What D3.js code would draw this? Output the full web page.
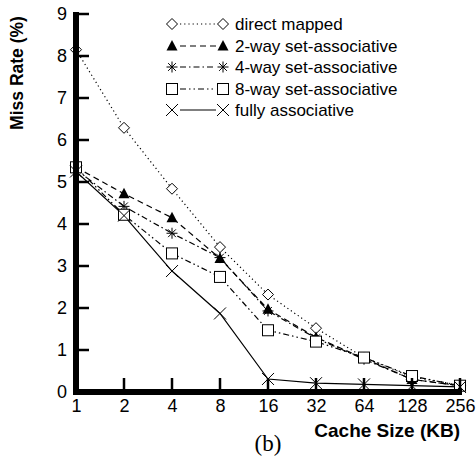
<!DOCTYPE html>
<html><head><meta charset="utf-8">
<script src="https://cdn.jsdelivr.net/npm/d3@7"></script>
<style>body{margin:0;background:#fff}svg{display:block}</style>
</head><body>
<svg id="c" width="476" height="460"></svg>
<script>
const cacheSizes = [1, 2, 4, 8, 16, 32, 64, 128, 256];
const directMapped = [8.15, 6.29, 4.84, 3.45, 2.32, 1.52, 0.82, 0.36, 0.16];
const twoWay      = [5.35, 4.72, 4.15, 3.18, 1.97, 1.30, 0.80, 0.30, 0.15];
const fourWay     = [5.30, 4.42, 3.78, 3.20, 1.93, 1.28, 0.78, 0.30, 0.15];
const eightWay    = [5.35, 4.22, 3.30, 2.74, 1.47, 1.20, 0.82, 0.38, 0.15];
const fullyAssoc  = [5.25, 4.20, 2.88, 1.87, 0.31, 0.21, 0.18, 0.15, 0.12];
const yTicks = [0, 1, 2, 3, 4, 5, 6, 7, 8, 9];
const seriesNames = ["direct mapped", "2-way set-associative", "4-way set-associative", "8-way set-associative", "fully associative"];

const series = [
  {name: seriesNames[0], vals: directMapped, dash: "1.2,3", marker: "diamond"},
  {name: seriesNames[1], vals: twoWay, dash: "6,4", marker: "triangle"},
  {name: seriesNames[2], vals: fourWay, dash: "6,3,1.5,3", marker: "asterisk"},
  {name: seriesNames[3], vals: eightWay, dash: "6,3,1.5,3,1.5,3", marker: "square"},
  {name: seriesNames[4], vals: fullyAssoc, dash: null, marker: "cross"}
];

const svg = d3.select("#c");
const x = d3.scaleLog().base(2).domain([1, 256]).range([76, 460]);
const y = d3.scaleLinear().domain([0, 9]).range([392, 14]);
const SANS = "Liberation Sans, Arial, sans-serif";

function drawMarker(g, type, cx, cy) {
  const s = g.append("g").attr("transform", `translate(${cx},${cy})`);
  if (type === "diamond") {
    s.append("path").attr("d", "M0,-5.5L5.5,0L0,5.5L-5.5,0Z").attr("fill", "#fff").attr("stroke", "#000").attr("stroke-width", 1);
  } else if (type === "triangle") {
    s.append("path").attr("d", "M0,-6L5.5,4.5L-5.5,4.5Z").attr("fill", "#000");
  } else if (type === "asterisk") {
    const r = 5.5;
    for (let i = 0; i < 4; i++) {
      const a = i * Math.PI / 4;
      s.append("line").attr("x1", -r * Math.cos(a)).attr("y1", -r * Math.sin(a))
        .attr("x2", r * Math.cos(a)).attr("y2", r * Math.sin(a))
        .attr("stroke", "#000").attr("stroke-width", 1);
    }
  } else if (type === "square") {
    s.append("rect").attr("x", -5.5).attr("y", -5.5).attr("width", 11).attr("height", 11)
      .attr("fill", "#fff").attr("stroke", "#000").attr("stroke-width", 1);
  } else if (type === "cross") {
    const r = 6;
    s.append("path").attr("d", `M${-r},${-r}L${r},${r}M${-r},${r}L${r},${-r}`)
      .attr("stroke", "#000").attr("stroke-width", 1).attr("fill", "none");
  }
}

// lines
const line = d3.line().x((d, i) => x(cacheSizes[i])).y(d => y(d));
series.forEach(s => {
  svg.append("path").datum(s.vals).attr("d", line)
    .attr("fill", "none").attr("stroke", "#000").attr("stroke-width", 1.2)
    .attr("stroke-dasharray", s.dash);
});
series.forEach(s => {
  s.vals.forEach((v, i) => drawMarker(svg, s.marker, x(cacheSizes[i]), y(v)));
});

// axes
const yAxis = d3.axisLeft(y).tickValues(yTicks).tickSize(0).tickPadding(9);
const ya = svg.append("g").attr("transform", "translate(76,0)").call(yAxis);
ya.select(".domain").remove();
ya.selectAll("text").attr("font-family", SANS).attr("font-size", 18).attr("fill", "#000");
yTicks.forEach(t => {
  svg.append("line").attr("x1", 76).attr("x2", 89).attr("y1", y(t)).attr("y2", y(t))
    .attr("stroke", "#000").attr("stroke-width", 2.5);
});

const xAxis = d3.axisBottom(x).tickValues(cacheSizes).tickFormat(d3.format("d")).tickSize(0).tickPadding(7);
const xa = svg.append("g").attr("transform", "translate(0,392)").call(xAxis);
xa.select(".domain").remove();
xa.selectAll("text").attr("font-family", SANS).attr("font-size", 18).attr("fill", "#000");
cacheSizes.slice(1).forEach(t => {
  svg.append("line").attr("x1", x(t)).attr("x2", x(t)).attr("y1", 392).attr("y2", 378)
    .attr("stroke", "#000").attr("stroke-width", 2.5);
});

svg.append("line").attr("x1", 76).attr("x2", 76).attr("y1", 12).attr("y2", 394).attr("stroke", "#000").attr("stroke-width", 6);
svg.append("line").attr("x1", 73).attr("x2", 462).attr("y1", 392).attr("y2", 392).attr("stroke", "#000").attr("stroke-width", 6);

// titles
svg.append("text").attr("transform", "translate(23,73) rotate(-90)").attr("text-anchor", "middle")
  .attr("font-family", SANS).attr("font-weight", "bold").attr("font-size", 17.5)
  .text("Miss Rate (%)");
svg.append("text").attr("x", 460).attr("y", 437).attr("text-anchor", "end")
  .attr("font-family", SANS).attr("font-weight", "bold").attr("font-size", 19)
  .text("Cache Size (KB)");
svg.append("text").attr("x", 268).attr("y", 451).attr("text-anchor", "middle")
  .attr("font-family", "Liberation Serif, Times New Roman, serif").attr("font-size", 23)
  .text("(b)");

// legend
const legY = [24, 46, 67, 89, 110];
series.forEach((s, i) => {
  const ly = legY[i];
  svg.append("line").attr("x1", 180).attr("x2", 216).attr("y1", ly).attr("y2", ly)
    .attr("stroke", "#000").attr("stroke-width", 1.2).attr("stroke-dasharray", s.dash);
  drawMarker(svg, s.marker, 172, ly);
  drawMarker(svg, s.marker, 223, ly);
  svg.append("text").attr("x", 235).attr("y", ly + 6)
    .attr("font-family", SANS).attr("font-size", 17)
    .text(s.name);
});
</script>
</body></html>
